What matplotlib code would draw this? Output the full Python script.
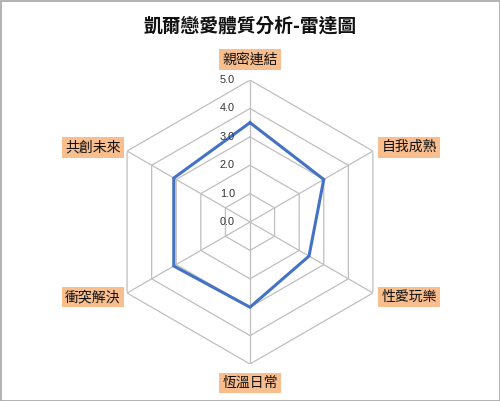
import numpy as np
import matplotlib
matplotlib.use("Agg")
import matplotlib.pyplot as plt
from matplotlib.patches import Rectangle

plt.rcParams['font.family'] = ['Noto Sans CJK TC', 'DejaVu Sans']

title = "凱爾戀愛體質分析-雷達圖"
categories = ["親密連結", "自我成熟", "性愛玩樂", "恆溫日常", "衝突解決", "共創未來"]
values = [3.5, 3.0, 2.4, 3.0, 3.1, 3.1]
rings = [1, 2, 3, 4, 5]
tick_labels = ["0.0", "1.0", "2.0", "3.0", "4.0", "5.0"]
rmax = 5

fig = plt.figure(figsize=(5, 4.01), dpi=100)
fig.patch.set_facecolor("white")
fig.patches.append(Rectangle((0.001, 0.001), 0.998, 0.997, transform=fig.transFigure,
                             fill=False, edgecolor="#A6A6A6", linewidth=1.2))

ax = fig.add_axes([0.216, 0.0923, 0.568, 0.708], projection="polar")
ax.set_theta_zero_location("N")
ax.set_theta_direction(-1)
ax.set_ylim(0, rmax)
ax.grid(False)
ax.spines["polar"].set_visible(False)
ax.set_xticks([])
ax.set_yticks([])
ax.patch.set_alpha(0)

n = len(categories)
theta = np.arange(n) * 2 * np.pi / n
theta_closed = np.append(theta, theta[0])

grid_color = "#BFBFBF"
for r in rings:
    ax.plot(theta_closed, [r] * (n + 1), color=grid_color, lw=0.9, zorder=1)
for t in theta:
    ax.plot([t, t], [0, rmax], color=grid_color, lw=0.9, zorder=1)

vals_closed = values + values[:1]
ax.plot(theta_closed, vals_closed, color="#4472C4", lw=2.2, zorder=3, solid_joinstyle="miter")

# radial tick labels
for i, lab in enumerate(tick_labels):
    ax.annotate(lab, xy=(0, i), xytext=(-15 * 0.72, 0), textcoords="offset points",
                ha="right", va="center", fontsize=7.8, color="#333333",
                family=["Liberation Sans", "DejaVu Sans"], zorder=4)

# category labels
px = 0.72
offsets = [
    ("center", "center", 0, 20.5),
    ("left", "center", 8.5, 4),
    ("left", "center", 8.5, -4),
    ("center", "center", 0, -19),
    ("right", "center", -6.5, -4),
    ("right", "center", -6.5, 4),
]
for t, lab, (ha, va, dx, dy) in zip(theta, categories, offsets):
    ax.annotate(lab, xy=(t, rmax), xytext=(dx * px, dy * px), textcoords="offset points",
                ha=ha, va=va, fontsize=10, color="#111111", weight="medium", zorder=5,
                bbox=dict(boxstyle="square,pad=0.25", facecolor="#F8BE8E", edgecolor="none"))

fig.text(0.5, 1 - 26.5 / 401, title, ha="center", va="center", fontsize=13.5,
         color="#111111", weight="bold")

fig.savefig("out.png", dpi=100)
